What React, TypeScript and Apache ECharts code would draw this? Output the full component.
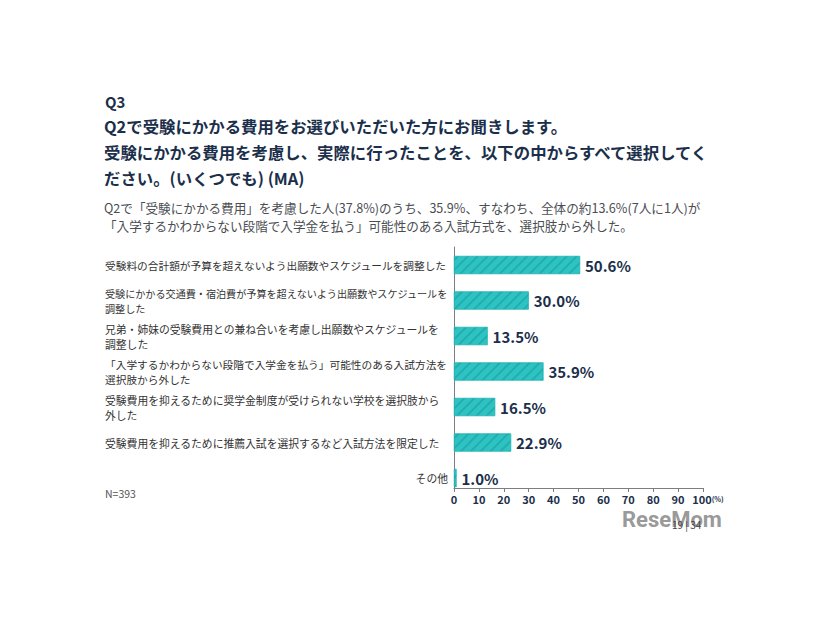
import React, { useEffect, useRef } from "react";
import * as echarts from "echarts";

const categories = [
  "受験料の合計額が予算を超えないよう出願数やスケジュールを調整した",
  "受験にかかる交通費・宿泊費が予算を超えないよう出願数やスケジュールを\n調整した",
  "兄弟・姉妹の受験費用との兼ね合いを考慮し出願数やスケジュールを\n調整した",
  "「入学するかわからない段階で入学金を払う」可能性のある入試方法を\n選択肢から外した",
  "受験費用を抑えるために奨学金制度が受けられない学校を選択肢から\n外した",
  "受験費用を抑えるために推薦入試を選択するなど入試方法を限定した",
  "その他",
];
const values = [50.6, 30.0, 13.5, 35.9, 16.5, 22.9, 1.0];

const titleLines = [
  "Q2で受験にかかる費用をお選びいただいた方にお聞きします。",
  "受験にかかる費用を考慮し、実際に行ったことを、以下の中からすべて選択してく",
  "ださい。(いくつでも) (MA)",
];
const subtitleLines = [
  "Q2で「受験にかかる費用」を考慮した人(37.8%)のうち、35.9%、すなわち、全体の約13.6%(7人に1人)が",
  "「入学するかわからない段階で入学金を払う」可能性のある入試方式を、選択肢から外した。",
];

const NAVY = "#1b2f4b";
const TEAL = "#2ec3c3";
const FONT = "'Noto Sans CJK JP', 'Noto Sans', sans-serif";
const LABEL_WIDTH = 345;
const LH = 15;

export default function App() {
  const ref = useRef<HTMLDivElement>(null);
  useEffect(() => {
    if (!ref.current) return;
    const chart = echarts.init(ref.current, null, { renderer: "svg" });

    const richStyles: any = {
      r: { width: 343, align: "right", fontSize: 10.8, color: "#333", lineHeight: LH },
      n: { fontSize: 10.8, color: "#333", lineHeight: LH },
    };
    const labelFormatter = (v: string) => {
      if (v === "その他") return "{r|その他}";
      const lines = v.split("\n");
      const maxLen = Math.max(...lines.map((l) => l.length));
      let key = "n";
      if (maxLen * 10.8 > LABEL_WIDTH) {
        const fs = Math.floor((LABEL_WIDTH / maxLen) * 10) / 10;
        key = "s" + String(fs).replace(".", "_");
        richStyles[key] = { fontSize: fs, color: "#333", lineHeight: LH };
      }
      return lines.map((l) => `{${key}|${l}}`).join("\n");
    };
    categories.forEach((c) => labelFormatter(c));

    const option: any = {
      animation: false,
      backgroundColor: "#ffffff",
      textStyle: { fontFamily: FONT },
      grid: [
        { left: 454, width: 249, top: 247.25, bottom: 124.25, containLabel: false },
        { left: 454, width: 249, top: 247, bottom: 132, containLabel: false },
      ],
      xAxis: [
        { type: "value", gridIndex: 0, min: 0, max: 100, show: false },
        {
          type: "value",
          gridIndex: 1,
          min: 0,
          max: 100,
          interval: 10,
          axisLine: { show: true, lineStyle: { color: "#7a7f86", width: 1 } },
          axisTick: { show: true, length: 4, lineStyle: { color: "#7a7f86" } },
          splitLine: { show: false },
          axisLabel: {
            color: NAVY,
            fontSize: 11,
            fontWeight: "bold",
            margin: 5,
            formatter: (v: number) => (v === 100 ? "{a|100}{b|(%)}" : String(v)),
            rich: {
              a: { fontSize: 11, fontWeight: "bold", color: NAVY, padding: [0, 0, 0, 10] },
              b: { fontSize: 7, color: NAVY, verticalAlign: "bottom", padding: [0, 0, 1, 0] },
            },
          },
        },
      ],
      yAxis: [
        {
          type: "category",
          gridIndex: 0,
          data: categories,
          inverse: true,
          axisLine: { show: false },
          axisTick: { show: false },
          axisLabel: {
            align: "left",
            margin: 349,
            color: "#333",
            fontSize: 10.8,
            lineHeight: LH,
            formatter: labelFormatter,
            rich: richStyles,
          },
        },
        {
          type: "value",
          gridIndex: 1,
          min: 0,
          max: 1,
          axisLine: { show: true, lineStyle: { color: "#7a7f86", width: 1 } },
          axisTick: { show: false },
          axisLabel: { show: false },
          splitLine: { show: false },
        },
      ],
      series: [
        {
          type: "bar",
          xAxisIndex: 0,
          yAxisIndex: 0,
          data: values,
          barWidth: 18,
          itemStyle: {
            color: TEAL,
            borderColor: "#27b3b3",
            borderWidth: 0.5,
            decal: {
              symbol: "rect",
              dashArrayX: [1, 0],
              dashArrayY: [1.5, 5],
              rotation: -Math.PI / 4,
              color: "rgba(20,140,140,0.4)",
              symbolSize: 1,
            },
          },
          label: {
            show: true,
            position: "right",
            distance: 5,
            color: NAVY,
            fontSize: 15,
            fontWeight: "bold",
            formatter: (p: any) => p.value.toFixed(1) + "%",
          },
        },
      ],
      graphic: [
        {
          type: "text",
          left: 105,
          top: 94,
          style: { text: "Q3", fill: NAVY, font: `bold 15px ${FONT}` },
        },
        ...titleLines.map((t, i) => ({
          type: "text",
          left: 104,
          top: 118 + i * 26,
          style: { text: t, fill: NAVY, font: `bold 16.4px ${FONT}` },
        })),
        ...subtitleLines.map((t, i) => ({
          type: "text",
          left: 104,
          top: 201 + i * 18,
          style: { text: t, fill: "#4a4d52", font: `12.6px ${FONT}` },
        })),
        {
          type: "text",
          left: 105,
          top: 488,
          style: { text: "N=393", fill: "#555", font: `10.5px ${FONT}` },
        },
        {
          type: "text",
          left: 622,
          top: 508,
          style: { text: "ReseMom", fill: "#8c8c8c", font: `bold 22px Roboto, sans-serif`, opacity: 0.9 },
        },
        {
          type: "text",
          left: 672,
          top: 519,
          style: { text: "19 | 34", fill: "#444", font: `10px ${FONT}` },
        },
      ],
    };
    chart.setOption(option);
    return () => chart.dispose();
  }, []);
  return (
    <div
      ref={ref}
      style={{ position: "fixed", left: 0, top: 0, width: 826, height: 620 }}
    />
  );
}
